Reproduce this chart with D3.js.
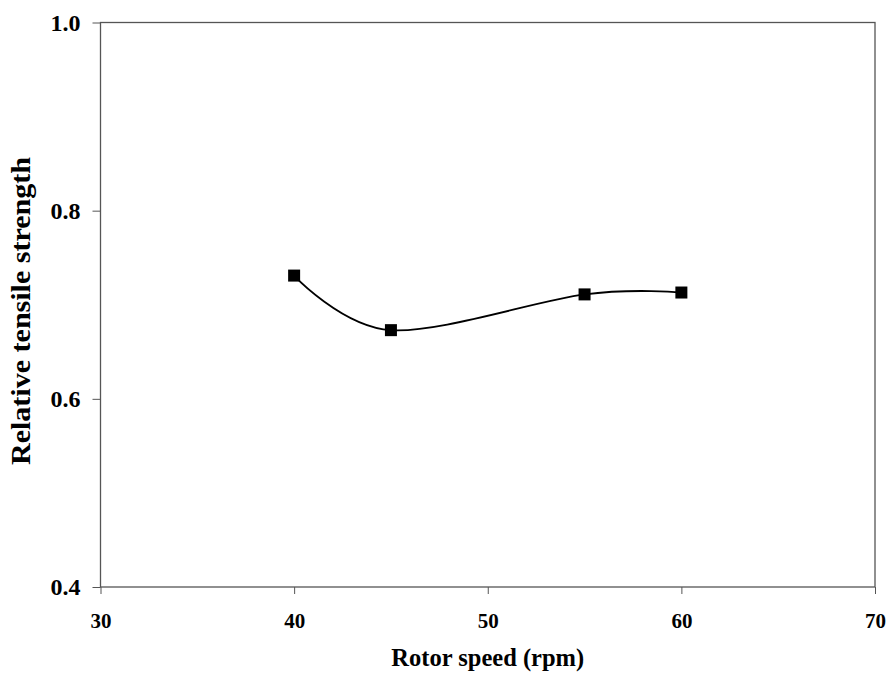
<!DOCTYPE html>
<html>
<head>
<meta charset="utf-8">
<script src="https://cdn.jsdelivr.net/npm/d3@7"></script>
<style>
  body { margin: 0; background: #fff; }
  text { font-family: "Liberation Serif", "Times New Roman", serif; font-weight: bold; fill: #000; }
</style>
</head>
<body>
<div id="chart"></div>
<script>
// data
const rotorSpeed = [40, 45, 55, 60];
const tensileStrength = [0.731, 0.673, 0.711, 0.713];
const xTicks = [30, 40, 50, 60, 70];
const yTicks = [0.4, 0.6, 0.8, 1.0];

const width = 888;
const height = 673;
const margin = { top: 22.5, right: 13, left: 100.5, bottom: 86 };

const svg = d3.select("#chart").append("svg")
    .attr("width", width)
    .attr("height", height);

const xScale = d3.scaleLinear()
    .domain([30, 70])
    .range([margin.left, width - margin.right]);

const yScale = d3.scaleLinear()
    .domain([0.4, 1.0])
    .range([height - margin.bottom, margin.top]);

// plot frame
svg.append("rect")
    .attr("x", margin.left)
    .attr("y", margin.top)
    .attr("width", width - margin.left - margin.right)
    .attr("height", height - margin.top - margin.bottom)
    .attr("fill", "none")
    .attr("stroke", "#555")
    .attr("stroke-width", 1.3);

// x axis
const xAxis = svg.append("g")
    .attr("transform", `translate(0, ${height - margin.bottom})`)
    .call(d3.axisBottom(xScale).tickValues(xTicks).tickSize(7).tickPadding(19).tickFormat(d3.format("d")))
    .attr("font-family", "Liberation Serif")
    .attr("font-size", 21);
xAxis.select(".domain").remove();
xAxis.selectAll("line").attr("stroke", "#555");

// y axis
const yAxis = svg.append("g")
    .attr("transform", `translate(${margin.left}, 0)`)
    .call(d3.axisLeft(yScale).tickValues(yTicks).tickSize(8).tickPadding(12).tickFormat(d3.format(".1f")))
    .attr("font-family", "Liberation Serif")
    .attr("font-size", 24);
yAxis.select(".domain").remove();
yAxis.selectAll("line").attr("stroke", "#555");

// axis titles
svg.append("text")
    .attr("x", xScale(50))
    .attr("y", 666)
    .attr("text-anchor", "middle")
    .style("font-size", "24.5px")
    .text("Rotor speed (rpm)");

svg.append("text")
    .attr("transform", `translate(30, 311) rotate(-90)`)
    .attr("text-anchor", "middle")
    .attr("textLength", 308)
    .attr("lengthAdjust", "spacingAndGlyphs")
    .style("font-size", "27px")
    .text("Relative tensile strength");

// smoothed line
const points = rotorSpeed.map((d, i) => [d, tensileStrength[i]]);
const line = d3.line()
    .x(d => xScale(d[0]))
    .y(d => yScale(d[1]))
    .curve(d3.curveCardinal.tension(0));

svg.append("path")
    .datum(points)
    .attr("d", line)
    .attr("fill", "none")
    .attr("stroke", "#000")
    .attr("stroke-width", 1.8);

// square markers
const size = 12;
svg.selectAll(".marker")
    .data(points)
    .enter()
    .append("rect")
    .attr("class", "marker")
    .attr("x", d => xScale(d[0]) - size / 2)
    .attr("y", d => yScale(d[1]) - size / 2)
    .attr("width", size)
    .attr("height", size)
    .attr("fill", "#000");
</script>
</body>
</html>
